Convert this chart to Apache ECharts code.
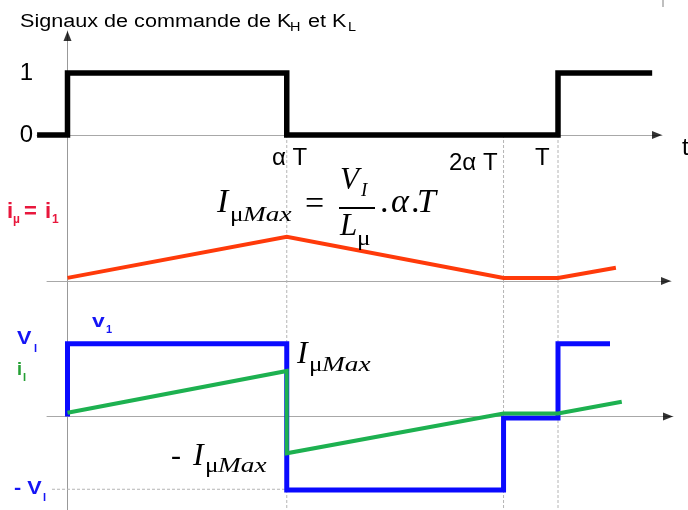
<!DOCTYPE html>
<html>
<head>
<meta charset="utf-8">
<script src="https://cdn.jsdelivr.net/npm/echarts@6/dist/echarts.min.js"></script>
<style>
html,body{margin:0;padding:0;background:#fff}
#chart{width:688px;height:510px}
</style>
</head>
<body>
<div id="chart"></div>
<script>
// instants de commutation (periode T = 10)
var tAlpha = 4.47;
var t2Alpha = 8.89;
var tPeriod = 10;
var tickTimes = [tAlpha, t2Alpha, tPeriod];
var levelTicks = [0, 1];

// signaux de commande K_H et K_L
var cmdTime = [-0.62, 0, 0, 4.47, 4.47, 10, 10, 11.92];
var cmdVal  = [0, 0, 1, 1, 0, 0, 1, 1];

// courant magnetisant i_mu = i_1 (unite : I_muMax)
var imuTime = [0, 4.47, 8.89, 10, 11.18];
var imuVal  = [0.07, 1, 0.07, 0.07, 0.3];

// tension v1 (unite : V_I)
var v1Time = [0, 0, 4.47, 4.47, 8.89, 8.89, 10, 10, 11.06];
var v1Val  = [0, 0.99, 0.99, -1.0, -1.0, -0.02, -0.02, 0.99, 0.99];

// courant d'entree i_I (meme echelle que v1)
var iiTime = [0, 4.47, 4.47, 8.89, 10, 11.3];
var iiVal  = [0.05, 0.62, -0.5, 0.04, 0.04, 0.2];

function zip(a, b) {
    var out = [];
    for (var i = 0; i < a.length; i++) out.push([a[i], b[i]]);
    return out;
}

// mise en page : t=0 a x=67.5 px, 49.05 px par unite de temps
var X0 = 67.5, KX = 49.05;
function tx(px) { return (px - X0) / KX; }
var panels = [
    {left: 37, end: 662, top: 31, bottom: 510, y0: 135, ky: 62},
    {left: 47, end: 671, top: 200, bottom: 300, y0: 281, ky: 44.3},
    {left: 47, end: 673, top: 310, bottom: 510, y0: 416.5, ky: 73.5}
];

var grid = [], xAxis = [], yAxis = [], series = [];
panels.forEach(function (p, i) {
    p.ymin = -(p.bottom - p.y0) / p.ky;
    p.ymax = (p.y0 - p.top) / p.ky;
    grid.push({left: p.left, top: p.top, width: p.end - p.left, height: p.bottom - p.top,
               containLabel: false, outerBoundsMode: 'none'});
    xAxis.push({
        type: 'value', gridIndex: i, min: tx(p.left), max: tx(p.end),
        axisLine: {show: true, onZero: true, lineStyle: {color: '#a8a8a8', width: 1}},
        axisTick: {show: false}, axisLabel: {show: false}, splitLine: {show: false}
    });
    yAxis.push({
        type: 'value', gridIndex: i, min: p.ymin, max: p.ymax,
        axisLine: {show: i === 0, onZero: true, lineStyle: {color: '#999', width: 1}},
        axisTick: {show: false},
        axisLabel: i === 0 ? {
            show: true, customValues: levelTicks, margin: 4,
            fontSize: 24, fontFamily: 'Liberation Sans', color: '#000',
            formatter: function (v) { return String(v); }
        } : {show: false},
        splitLine: {show: false}
    });
    // fleche au bout de l'axe des temps
    series.push({
        type: 'scatter', xAxisIndex: i, yAxisIndex: i, silent: true, z: 6,
        symbol: 'triangle', symbolSize: [8, 10], symbolRotate: -90,
        itemStyle: {color: '#000'}, data: [[tx(p.end - 5), 0]]
    });
});

// fleche de l'axe vertical
series.push({
    type: 'scatter', xAxisIndex: 0, yAxisIndex: 0, silent: true, z: 6,
    symbol: 'triangle', symbolSize: [8, 10],
    itemStyle: {color: '#000'}, data: [[0, panels[0].ymax - 5 / panels[0].ky]]
});

// reperes verticaux en pointilles
tickTimes.forEach(function (t) {
    series.push({
        type: 'line', xAxisIndex: 0, yAxisIndex: 0, silent: true, z: 1,
        symbol: 'none', data: [[t, 0], [t, panels[0].ymin]],
        lineStyle: {color: '#b4b4b4', width: 1, type: [3, 2]}
    });
});
// repere - V_I
series.push({
    type: 'line', xAxisIndex: 2, yAxisIndex: 2, silent: true, z: 1,
    symbol: 'none', data: [[tx(52), -0.99], [tAlpha, -0.99]],
    lineStyle: {color: '#b4b4b4', width: 1, type: [3, 2]}
});

series.push({
    name: 'commande', type: 'line', xAxisIndex: 0, yAxisIndex: 0, symbol: 'none', z: 5,
    data: zip(cmdTime, cmdVal),
    lineStyle: {color: '#000', width: 5.5, join: 'miter', cap: 'butt'}
});
series.push({
    name: 'i_mu', type: 'line', xAxisIndex: 1, yAxisIndex: 1, symbol: 'none', z: 5,
    data: zip(imuTime, imuVal),
    lineStyle: {color: '#ff3a0a', width: 4, join: 'miter'}
});
series.push({
    name: 'v1', type: 'line', xAxisIndex: 2, yAxisIndex: 2, symbol: 'none', z: 5,
    data: zip(v1Time, v1Val),
    lineStyle: {color: '#0a0aff', width: 5, join: 'miter', cap: 'butt'}
});
series.push({
    name: 'i_I', type: 'line', xAxisIndex: 2, yAxisIndex: 2, symbol: 'none', z: 6,
    data: zip(iiTime, iiVal),
    lineStyle: {color: '#1db150', width: 4, join: 'miter'}
});

// textes (x = bord gauche, base = ligne de base)
function txt(x, base, text, o) {
    var k = o.serif ? 0.3375 : 0.3465;
    var font = (o.italic ? 'italic ' : '') + (o.bold ? 'bold ' : '') + o.size + 'px ' +
        (o.serif ? '"Liberation Serif"' : '"Liberation Sans"');
    return {
        type: 'text', x: x, y: base - k * o.size, scaleX: o.sx || 1, silent: true, z: 100,
        style: {text: text, font: font, fill: o.color || '#000', align: 'left', verticalAlign: 'middle'}
    };
}
var RED = '#e8173c', BLUE = '#1515f5', GREEN = '#25a035';
var M = {serif: true, italic: true, size: 34};
var MS = {serif: true, italic: true, size: 21, sx: 1.3};
var MU = {serif: true, size: 21, sx: 1.2};

var graphic = [
    // titre
    txt(20, 28, 'Signaux de commande de K', {size: 18, sx: 1.2}),
    txt(290, 32, 'H', {size: 12, sx: 1.2}),
    txt(308, 28, 'et K', {size: 18, sx: 1.2}),
    txt(348, 32, 'L', {size: 12, sx: 1.2}),
    txt(682, 157, 't', {size: 24}),
    // reperes de temps
    txt(272, 167, 'α T', {size: 24}),
    txt(449, 172, '2α T', {size: 24}),
    txt(535, 167, 'T', {size: 24}),
    // i_mu = i_1
    txt(7, 220, 'i', {size: 22, bold: true, color: RED}),
    txt(13, 224, 'µ', {size: 12, bold: true, color: RED}),
    txt(24, 220, '=', {size: 22, bold: true, color: RED}),
    txt(45, 220, 'i', {size: 22, bold: true, color: RED}),
    txt(52, 224, '1', {size: 12, bold: true, color: RED}),
    // formule
    txt(217, 215, 'I', M),
    txt(230, 223, 'μ', MU),
    txt(243, 223, 'Max', MS),
    txt(305, 217, '=', {serif: true, size: 34}),
    {type: 'line', silent: true, z: 100, shape: {x1: 339, y1: 208, x2: 375, y2: 208},
     style: {stroke: '#000', lineWidth: 2.2}},
    txt(340, 191, 'V', {serif: true, italic: true, size: 31}),
    txt(361, 197, 'I', {serif: true, italic: true, size: 19}),
    txt(340, 237, 'L', {serif: true, italic: true, size: 31}),
    txt(357, 247, 'μ', {serif: true, size: 21, sx: 1.2}),
    txt(380, 215, '.', {serif: true, size: 34}),
    txt(391, 215, 'α', M),
    txt(411, 215, '.', {serif: true, size: 34}),
    txt(417, 215, 'T', M),
    // v1, i_I
    txt(17, 345, 'V', {size: 18, bold: true, color: BLUE, sx: 1.2}),
    txt(34, 353, 'I', {size: 11, bold: true, color: BLUE}),
    txt(92, 328, 'v', {size: 19, bold: true, color: BLUE, sx: 1.2}),
    txt(106, 334, '1', {size: 11, bold: true, color: BLUE}),
    txt(17, 376, 'i', {size: 18, bold: true, color: GREEN}),
    txt(23, 382, 'I', {size: 11, bold: true, color: GREEN}),
    txt(14, 495, '- V', {size: 18, bold: true, color: BLUE, sx: 1.2}),
    txt(43, 502, 'I', {size: 11, bold: true, color: BLUE}),
    // I_muMax et - I_muMax
    txt(297, 365, 'I', {serif: true, italic: true, size: 32}),
    txt(309, 373, 'μ', MU),
    txt(322, 373, 'Max', MS),
    txt(171, 467, '-', {serif: true, size: 30}),
    txt(193, 467, 'I', {serif: true, italic: true, size: 32}),
    txt(205, 474, 'μ', MU),
    txt(218, 474, 'Max', MS),
    // petit trait en haut a droite
    {type: 'line', silent: true, z: 100, shape: {x1: 663, y1: 0, x2: 663, y2: 7},
     style: {stroke: '#aaa', lineWidth: 1.5}}
];

var chart = echarts.init(document.getElementById('chart'));
chart.setOption({
    animation: false,
    backgroundColor: '#fff',
    grid: grid,
    xAxis: xAxis,
    yAxis: yAxis,
    series: series,
    graphic: graphic
});
</script>
</body>
</html>
